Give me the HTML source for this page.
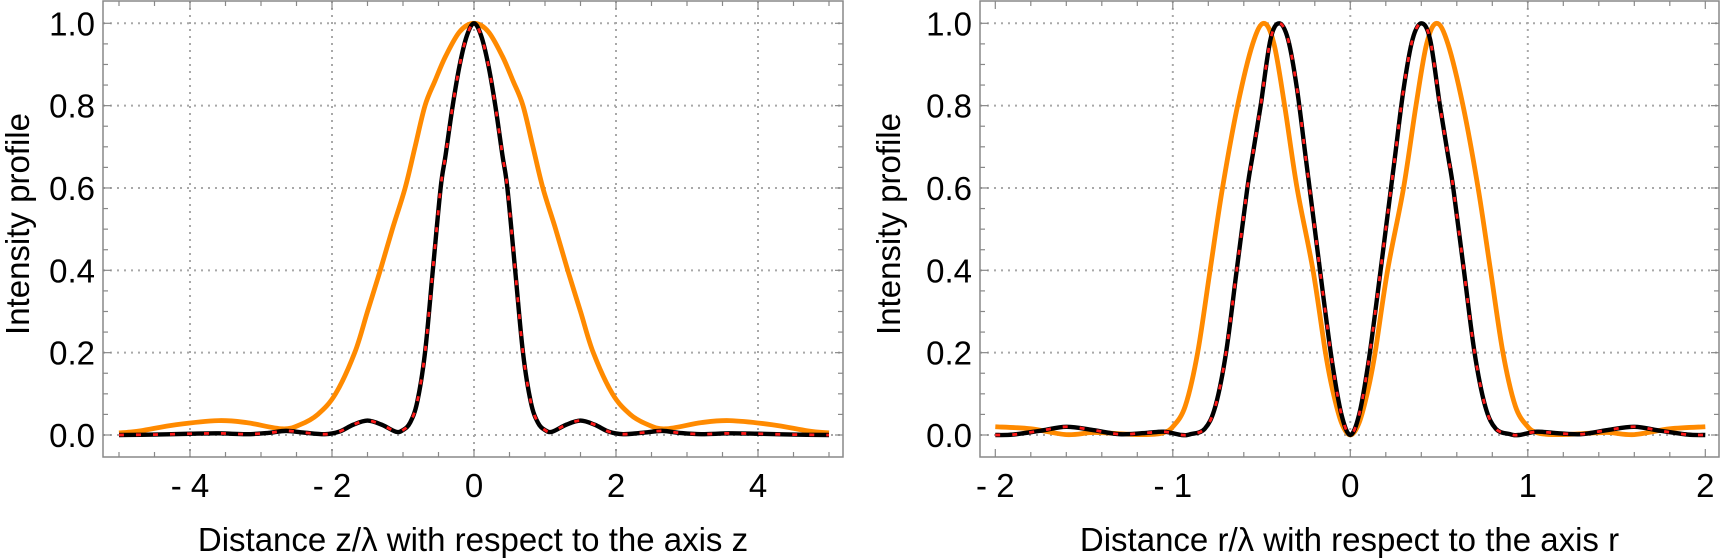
<!DOCTYPE html>
<html><head><meta charset="utf-8"><style>
html,body{margin:0;padding:0;background:#fff;}
svg{display:block;font-family:"Liberation Sans",sans-serif;}
</style></head><body>
<svg id="chart" width="1721" height="558" viewBox="0 0 1721 558" xmlns="http://www.w3.org/2000/svg"></svg>
<script>
// ---- data: left panel (z) ----
const zX      = [0,0.1,0.2,0.3,0.4,0.47,0.58,0.69,0.8,0.9,1.0,1.1,1.3,1.5,1.7,1.9,2.1,2.4,2.65,2.9,3.2,3.6,4.0,4.5,5];
const zBlack  = [1,0.97,0.9,0.8,0.68,0.6,0.4,0.2,0.08,0.03,0.012,0.008,0.025,0.035,0.025,0.008,0.002,0.006,0.01,0.005,0.002,0.004,0.003,0.001,0];
const zOX     = [0,0.2,0.4,0.55,0.69,0.83,0.97,1.15,1.32,1.5,1.68,1.95,2.2,2.45,2.7,3.2,3.6,4.2,4.7,5];
const zOrange = [1,0.98,0.92,0.86,0.8,0.7,0.6,0.5,0.4,0.3,0.2,0.1,0.05,0.025,0.015,0.03,0.035,0.025,0.01,0.005];
// ---- data: right panel (r) ----
const rX      = [0,0.05,0.1,0.15,0.2,0.25,0.3,0.35,0.4,0.45,0.505,0.55,0.58,0.64,0.7,0.76,0.82,0.9,0.95,1.05,1.15,1.3,1.45,1.6,1.75,1.9,2];
const rBlack  = [0,0.05,0.17,0.33,0.5,0.67,0.84,0.96,1,0.96,0.8,0.68,0.6,0.4,0.2,0.07,0.015,0.002,0,0.008,0.005,0.002,0.012,0.02,0.01,0.001,0];
const rOX     = [0,0.05,0.1,0.14,0.21,0.3,0.37,0.43,0.487,0.55,0.635,0.72,0.79,0.86,0.93,1.0,1.05,1.1,1.2,1.3,1.45,1.6,1.8,2];
const rOrange = [0,0.03,0.11,0.2,0.4,0.6,0.8,0.95,1,0.95,0.8,0.6,0.4,0.2,0.07,0.02,0.006,0.002,0.001,0.003,0.006,0.001,0.015,0.02];
const zTicks = [-4,-2,0,2,4];
const rTicks = [-2,-1,0,1,2];
const yTicks = [0,0.2,0.4,0.6,0.8,1.0];

const NS="http://www.w3.org/2000/svg";
const svg=document.getElementById('chart');
function mk(tag,attrs,parent){const e=document.createElementNS(NS,tag);for(const k in attrs)e.setAttribute(k,attrs[k]);(parent||svg).appendChild(e);return e;}
function fmtLabel(v){return v<0?'- '+Math.abs(v):String(v);}
function smoothPath(pts){
  let d='M'+pts[0][0].toFixed(2)+','+pts[0][1].toFixed(2);
  for(let i=0;i<pts.length-1;i++){
    const p0=pts[Math.max(0,i-1)],p1=pts[i],p2=pts[i+1],p3=pts[Math.min(pts.length-1,i+2)];
    const c1=[p1[0]+(p2[0]-p0[0])/6,p1[1]+(p2[1]-p0[1])/6];
    const c2=[p2[0]-(p3[0]-p1[0])/6,p2[1]-(p3[1]-p1[1])/6];
    d+=' C'+c1[0].toFixed(2)+','+c1[1].toFixed(2)+' '+c2[0].toFixed(2)+','+c2[1].toFixed(2)+' '+p2[0].toFixed(2)+','+p2[1].toFixed(2);
  }
  return d;
}
function mirror(xs,ys){const X=[],Y=[];for(let i=xs.length-1;i>0;i--){X.push(-xs[i]);Y.push(ys[i]);}for(let i=0;i<xs.length;i++){X.push(xs[i]);Y.push(ys[i]);}return [X,Y];}

function panel(cfg){
  const g=mk('g',{});
  
  
  const sx=v=>cfg.x0+v*cfg.kx, sy=v=>cfg.y0-v*cfg.ky;
  cfg.grid.forEach(v=>{const l=mk('line',{x1:sx(v),x2:sx(v),y1:cfg.top,y2:cfg.bottom,stroke:'#a8a8a8','stroke-width':2,'stroke-dasharray':'2 5'},g);
    });
  yTicks.forEach(v=>{const l=mk('line',{x1:cfg.left,x2:cfg.right,y1:sy(v),y2:sy(v),stroke:'#a8a8a8','stroke-width':2,'stroke-dasharray':'2 5'},g);
    });
  const f=mk('rect',{x:cfg.left,y:cfg.top,width:cfg.right-cfg.left,height:cfg.bottom-cfg.top,fill:'none',stroke:'#888','stroke-width':1.5},g);
  
  for(let v=cfg.xmin;v<=cfg.xmax+1e-9;v+=cfg.minor){
    const major=cfg.ticks.some(t=>Math.abs(t-v)<1e-6);const L=major?8:5;
    mk('line',{x1:sx(v),x2:sx(v),y1:cfg.bottom,y2:cfg.bottom-L,stroke:'#888','stroke-width':1.2},g);
    mk('line',{x1:sx(v),x2:sx(v),y1:cfg.top,y2:cfg.top+L,stroke:'#888','stroke-width':1.2},g);
  }
  for(let v=0;v<=1.0001;v+=0.05){
    const major=Math.abs(v*5-Math.round(v*5))<1e-6;const L=major?8:5;
    mk('line',{x1:cfg.left,x2:cfg.left+L,y1:sy(v),y2:sy(v),stroke:'#888','stroke-width':1.2},g);
    mk('line',{x1:cfg.right,x2:cfg.right-L,y1:sy(v),y2:sy(v),stroke:'#888','stroke-width':1.2},g);
  }
  cfg.ticks.forEach(v=>{const t=mk('text',{x:sx(v),y:497,'text-anchor':'middle','font-size':33,fill:'#000'},g);t.textContent=fmtLabel(v);
    });
  yTicks.forEach(v=>{const t=mk('text',{x:cfg.left-8,y:sy(v)+12,'text-anchor':'end','font-size':33,fill:'#000'},g);t.textContent=v.toFixed(1);
    });
  const xt=mk('text',{x:(cfg.left+cfg.right)/2,y:551,'text-anchor':'middle','font-size':33,fill:'#000'},g);xt.textContent=cfg.xtitle;
  
  const yt=mk('text',{x:0,y:0,'text-anchor':'middle','font-size':33,fill:'#000',transform:'translate('+cfg.ytx+',224) rotate(-90)'},g);yt.textContent='Intensity profile';
  
  const [ox,oy]=mirror(cfg.oX,cfg.oY);
  const o=mk('path',{d:smoothPath(ox.map((x,i)=>[sx(x),sy(oy[i])])),fill:'none',stroke:'#ff8a00','stroke-width':4.8},g);
  
  const [bx,by]=mirror(cfg.bX,cfg.bY);
  const bd=smoothPath(bx.map((x,i)=>[sx(x),sy(by[i])]));
  const b=mk('path',{d:bd,fill:'none',stroke:'#000','stroke-width':4.4},g);
  
  const r=mk('path',{d:bd,fill:'none',stroke:'#ff1a1a','stroke-width':2.8,'stroke-dasharray':'5 12'},g);
  
}
panel({name:'z-panel',left:103,right:843,top:1,bottom:457,x0:474,kx:71,y0:435,ky:411.7,xmin:-5,xmax:5,minor:0.5,
  grid:zTicks,ticks:zTicks,xtitle:'Distance z/λ with respect to the axis z',ytx:29,oX:zOX,oY:zOrange,bX:zX,bY:zBlack});
panel({name:'r-panel',left:980,right:1719,top:1,bottom:457,x0:1350.3,kx:177.5,y0:435,ky:411.7,xmin:-2,xmax:2,minor:0.2,
  grid:[-1,0,1],ticks:rTicks,xtitle:'Distance r/λ with respect to the axis r',ytx:900,oX:rOX,oY:rOrange,bX:rX,bY:rBlack});
</script>
</body></html>
